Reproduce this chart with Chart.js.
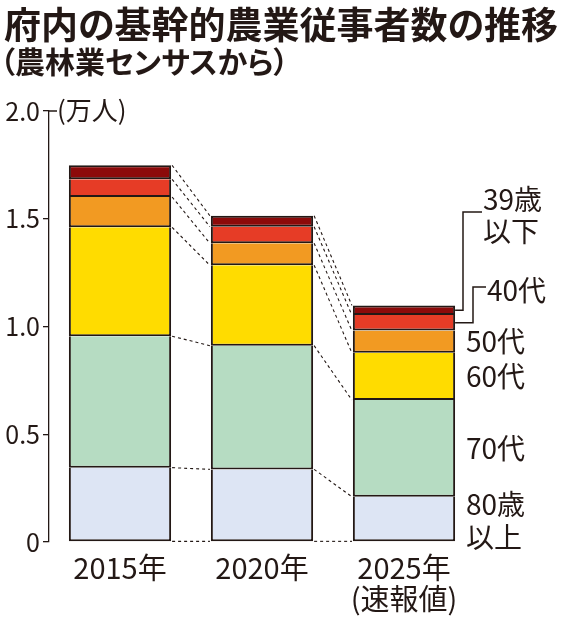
<!DOCTYPE html>
<html lang="ja">
<head>
<meta charset="utf-8">
<script src="https://cdn.jsdelivr.net/npm/chart.js@4.4.1/dist/chart.umd.min.js"></script>
<style>
  body { margin: 0; background: #fff; }
  #wrap { position: relative; width: 564px; height: 620px; }
  #title, #subtitle {
    position: absolute; left: 4px; margin: 0; white-space: nowrap;
    font-family: 'Noto Sans CJK JP', sans-serif; font-weight: 700;
    color: #231815; font-feature-settings: "palt"; line-height: 1;
  }
  #title { top: 5px; font-size: 37px; }
  #subtitle { top: 45px; left: 0px; font-size: 30px; }
</style>
</head>
<body>
<div id="wrap">
  <canvas id="chart"></canvas>
  <div id="title">府内の基幹的農業従事者数の推移</div>
  <div id="subtitle">（農林業センサスから）</div>
</div>
<script>
    // Data (unit: 10,000 people)
    const years = ['2015年', '2020年', ['2025年', '(速報値)']];
    const ageGroups = ['80歳以上', '70代', '60代', '50代', '40代', '39歳以下'];
    const over80 = [0.345, 0.337, 0.210];
    const age70s = [0.610, 0.574, 0.449];
    const age60s = [0.505, 0.373, 0.219];
    const age50s = [0.141, 0.102, 0.103];
    const age40s = [0.082, 0.077, 0.072];
    const under39 = [0.065, 0.051, 0.045];
    const yTicks = [0, 0.5, 1.0, 1.5, 2.0];
    const yUnit = '(万人)';

    const colors = ['#dde5f4', '#b6dcc2', '#ffdc00', '#f29a22', '#e63c26', '#8c0a0a'];
    const ink = '#231815';
    const font = "'Noto Sans CJK JP', sans-serif";

    const series = [over80, age70s, age60s, age50s, age40s, under39];

    // Dashed lines joining the segment boundaries of neighbouring bars
    const connectors = {
        id: 'connectors',
        afterDatasetsDraw(chart) {
            const ctx = chart.ctx;
            const metas = chart.data.datasets.map((d, i) => chart.getDatasetMeta(i));
            ctx.save();
            ctx.strokeStyle = ink;
            ctx.lineWidth = 1.1;
            ctx.setLineDash([3, 3]);
            for (let i = 0; i < years.length - 1; i++) {
                const a = metas[0].data[i], b = metas[0].data[i + 1];
                const x1 = a.x + a.width / 2 + 1, x2 = b.x - b.width / 2 - 1;
                const levels = [[a.base, b.base]].concat(metas.map(m => [m.data[i].y, m.data[i + 1].y]));
                levels.forEach(([y1, y2]) => {
                    ctx.beginPath();
                    ctx.moveTo(x1, y1);
                    ctx.lineTo(x2, y2);
                    ctx.stroke();
                });
            }
            ctx.restore();
        }
    };

    // Age labels on the right of the last bar, unit label at the top of the axis
    const sideLabels = {
        id: 'sideLabels',
        afterDraw(chart) {
            const ctx = chart.ctx;
            const last = years.length - 1;
            const seg = d => chart.getDatasetMeta(d).data[last];
            const mid = d => (seg(d).y + seg(d).base) / 2;
            const right = seg(0).x + seg(0).width / 2;

            ctx.save();
            ctx.fillStyle = ink;
            ctx.strokeStyle = ink;
            ctx.font = '28px ' + font;
            ctx.textAlign = 'left';
            ctx.textBaseline = 'middle';

            ctx.fillText('80歳', 466, mid(0) - 15);
            ctx.fillText('以上', 466, mid(0) + 18);
            ctx.fillText('70代', 466, mid(1));
            ctx.fillText('60代', 466, mid(2));
            ctx.fillText('50代', 466, mid(3));
            ctx.fillText('40代', 487, 290);
            ctx.fillText('39歳', 483, 199);
            ctx.fillText('以下', 483, 231);

            ctx.lineWidth = 1.5;
            ctx.beginPath();
            ctx.moveTo(right, mid(4));
            ctx.lineTo(473, mid(4));
            ctx.lineTo(473, 287);
            ctx.lineTo(486, 287);
            ctx.moveTo(right, mid(5));
            ctx.lineTo(463, mid(5));
            ctx.lineTo(463, 212);
            ctx.lineTo(482, 212);
            ctx.stroke();

            // unit next to the top tick
            const y = chart.scales.y;
            const top = y.getPixelForValue(yTicks[yTicks.length - 1]);
            ctx.beginPath();
            ctx.moveTo(y.right, top);
            ctx.lineTo(y.right + 8, top);
            ctx.stroke();
            ctx.font = '26px ' + font;
            ctx.fillText(yUnit, y.right + 8, top - 1);
            ctx.restore();
        }
    };

    // Each boundary drawn once: segments carry only their bottom edge, the top one closes the bar
    function edges(i) {
        return {
            left: 2,
            right: 2,
            top: i === series.length - 1 ? 2 : 0,
            bottom: 2
        };
    }

    const ctx = document.getElementById('chart').getContext('2d');
    new Chart(ctx, {
        type: 'bar',
        data: {
            labels: years,
            datasets: series.map((values, i) => ({
                label: ageGroups[i],
                data: values,
                backgroundColor: colors[i],
                borderColor: ink,
                borderWidth: edges(i),
                borderSkipped: false,
                barPercentage: 0.72,
                categoryPercentage: 1
            }))
        },
        options: {
            responsive: true,
            maintainAspectRatio: false,
            animation: false,
            devicePixelRatio: 1,
            layout: { padding: { top: 111, right: 89, left: 0, bottom: 0 } },
            plugins: {
                legend: { display: false },
                tooltip: { enabled: false }
            },
            scales: {
                x: {
                    stacked: true,
                    afterFit: s => { s.height = 78; },
                    grid: { display: false },
                    border: { display: false },
                    ticks: {
                        color: ink,
                        font: { family: font, size: 29, lineHeight: 1.05 },
                        padding: 3,
                        maxRotation: 0
                    }
                },
                y: {
                    stacked: true,
                    min: 0,
                    max: 2,
                    afterFit: s => { s.width = 49; },
                    afterBuildTicks: s => { s.ticks = yTicks.map(v => ({ value: v })); },
                    grid: { drawOnChartArea: false, drawTicks: true, tickLength: 6, color: ink, lineWidth: 1.3 },
                    border: { display: true, color: ink, width: 1.3 },
                    ticks: {
                        color: ink,
                        font: { family: font, size: 25 },
                        padding: 3,
                        callback: v => v === 0 ? '0' : v.toFixed(1)
                    }
                }
            }
        },
        plugins: [connectors, sideLabels]
    });
</script>
</body>
</html>
